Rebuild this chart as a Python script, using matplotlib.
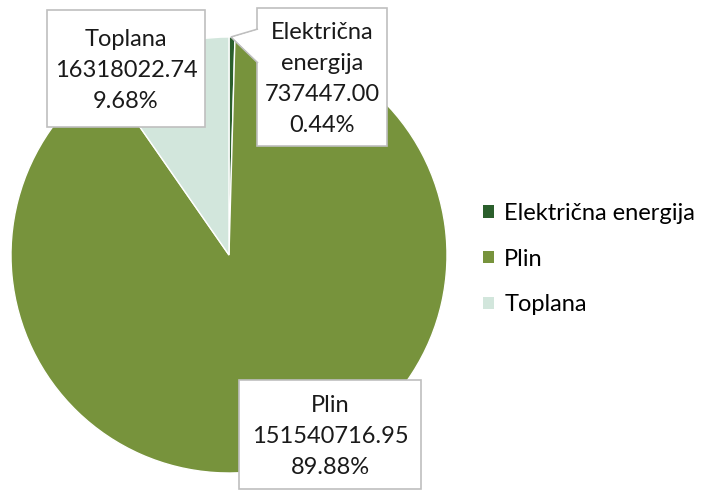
import matplotlib
matplotlib.use('Agg')
import matplotlib.pyplot as plt
from matplotlib.patches import Rectangle, Polygon, Patch

plt.rcParams['font.family'] = ['Lato', 'DejaVu Sans']

# data
labels = ['Električna energija', 'Plin', 'Toplana']
box_titles = ['Električna\nenergija', 'Plin', 'Toplana']
values = [737447.00, 151540716.95, 16318022.74]
colors = ['#2B5F2C', '#77933C', '#D2E6DC']

W, H = 708, 490
fig = plt.figure(figsize=(W / 100, H / 100), dpi=100)


def fx(x):
    return x / W


def fy(y):
    return 1 - y / H


# pie axes: centre (229, 255) px, radius 218 px
cx, cy, r = 229, 255, 218
ax = fig.add_axes([fx(cx - r), fy(cy + r), 2 * r / W, 2 * r / H])
wedges, _ = ax.pie(values, colors=colors, startangle=90, counterclock=False,
                   radius=1, wedgeprops=dict(edgecolor='white', linewidth=1))
ax.set_xlim(-1, 1)
ax.set_ylim(-1, 1)
ax.set_aspect('equal')
ax.axis('off')

total = sum(values)
pcts = [v / total * 100 for v in values]

# label boxes (left, top, right, bottom in px)
boxes = [(257, 8, 387, 146), (239, 380, 421, 489), (47, 10, 205, 127)]
edge = '#BFBFBF'
for i, (l, t, rr, b) in enumerate(boxes):
    fig.patches.append(Rectangle((fx(l), fy(b)), (rr - l) / W, (b - t) / H,
                                 transform=fig.transFigure, facecolor='white',
                                 edgecolor=edge, linewidth=1.2, zorder=5))
    txt = '%s\n%.2f\n%.2f%%' % (box_titles[i], values[i], pcts[i])
    fig.text(fx((l + rr) / 2), fy((t + b) / 2 + 2), txt, ha='center', va='center',
             multialignment='center', fontsize=17, linespacing=1.6,
             color='#1A1A1A', zorder=6)

# callout tail for the small slice
tail = Polygon([(fx(258), fy(29)), (fx(231), fy(37)), (fx(258), fy(63))],
               closed=False, transform=fig.transFigure, facecolor='white',
               edgecolor=edge, linewidth=1.2, zorder=5)
fig.patches.append(tail)
fig.patches.append(Polygon([(fx(258.5), fy(30)), (fx(233), fy(37.5)), (fx(258.5), fy(62))],
                           transform=fig.transFigure, facecolor='white',
                           edgecolor='none', zorder=6))

handles = [Patch(facecolor=c, edgecolor='none') for c in colors]
fig.legend(handles, labels, loc='center left', bbox_to_anchor=(fx(483), fy(259)),
           frameon=False, fontsize=17, handlelength=0.45, handleheight=0.45,
           handletextpad=0.45, labelspacing=1.05, borderaxespad=0, borderpad=0)

fig.savefig('out.png', dpi=100)
